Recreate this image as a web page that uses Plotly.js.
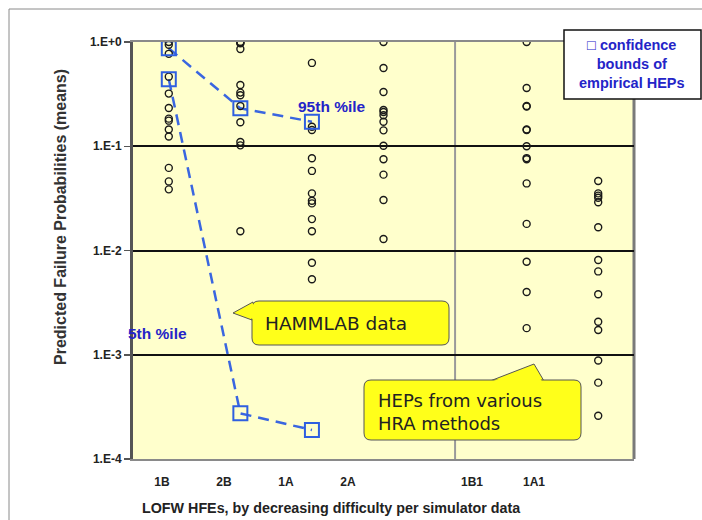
<!DOCTYPE html>
<html>
<head>
<meta charset="utf-8">
<script src="https://cdn.plot.ly/plotly-3.0.1.min.js"></script>
<style>html,body{margin:0;padding:0;background:#fff;}#chart{width:702px;height:520px;}</style>
</head>
<body>
<div id="chart"></div>
<script>
// ---- data ----
const categories = ['1B', '2B', '1A', '2A', '1B1', '1A1'];
const hep1B  = [1.0, 0.94, 0.77, 0.465, 0.32, 0.233, 0.184, 0.176, 0.145, 0.124, 0.062, 0.046, 0.0386];
const hep2B  = [1.0, 0.985, 0.97, 0.857, 0.387, 0.327, 0.308, 0.243, 0.17, 0.11, 0.102, 0.0153];
const hep1A  = [0.63, 0.154, 0.143, 0.0766, 0.058, 0.0353, 0.030, 0.0283, 0.020, 0.0153, 0.00764, 0.0053];
const hep2A  = [1.0, 0.563, 0.331, 0.223, 0.213, 0.198, 0.172, 0.142, 0.101, 0.075, 0.0534, 0.0305, 0.0129];
const hep1B1 = [1.0, 0.362, 0.243, 0.24, 0.145, 0.143, 0.100, 0.077, 0.075, 0.044, 0.018, 0.0078, 0.0040, 0.0018];
const hep1A1 = [0.0464, 0.0353, 0.0336, 0.0321, 0.029, 0.0167, 0.0081, 0.0063, 0.0038, 0.00207, 0.00173, 0.00088, 0.00054, 0.00026];
const boundCats = ['1B', '2B', '1A'];
const upper95 = [0.87, 0.231, 0.172];
const lower5  = [0.44, 0.000274, 0.00019];
const yTickVals = [1, 0.1, 0.01, 0.001, 0.0001];
const yTickText = ['1.E+0', '1.E-1', '1.E-2', '1.E-3', '1.E-4'];

// ---- layout helpers ----
const W = 702, H = 520, L = 133, R = 634, T = 42, B = 459;
const slot = c => { const i = categories.indexOf(c); return i < 4 ? i : i + 1; };
const px = x => (x - L) / (R - L);
const py = y => (B - y) / (B - T);
const seriesList = [hep1B, hep2B, hep1A, hep2A, hep1B1, hep1A1];

const traces = [];
[upper95, lower5].forEach(v => {
  traces.push({
    x: boundCats.map(slot), y: v, type: 'scatter', mode: 'lines',
    line: {color: '#3a66e0', width: 2.5, dash: '11px,7px'},
    hoverinfo: 'skip', showlegend: false
  });
});
categories.forEach((c, i) => {
  const vals = seriesList[i];
  traces.push({
    x: vals.map(() => slot(c)), y: vals, type: 'scatter', mode: 'markers',
    marker: {symbol: 'circle-open', size: 7, color: '#1a1a1a', line: {width: 1.4, color: '#1a1a1a'}},
    showlegend: false, name: c
  });
});
[upper95, lower5].forEach(v => {
  traces.push({
    x: boundCats.map(slot), y: v, type: 'scatter', mode: 'markers',
    marker: {symbol: 'square-open', size: 14, color: '#2f5fe0', line: {width: 2, color: '#2f5fe0'}},
    showlegend: false
  });
});

function rrect(x0, y0, x1, y1, r) {
  return `M${px(x0 + r)},${py(y0)} L${px(x1 - r)},${py(y0)} Q${px(x1)},${py(y0)} ${px(x1)},${py(y0 + r)} ` +
         `L${px(x1)},${py(y1 - r)} Q${px(x1)},${py(y1)} ${px(x1 - r)},${py(y1)} L${px(x0 + r)},${py(y1)} ` +
         `Q${px(x0)},${py(y1)} ${px(x0)},${py(y1 - r)} L${px(x0)},${py(y0 + r)} Q${px(x0)},${py(y0)} ${px(x0 + r)},${py(y0)} Z`;
}
function ptr(pts) {
  return 'M' + pts.map(p => `${px(p[0])},${py(p[1])}`).join(' L') + ' Z';
}

const shapes = [
  {type: 'rect', xref: 'paper', yref: 'paper', x0: px(9), x1: px(760), y0: py(580), y1: py(9),
   line: {color: '#8a8a8a', width: 1}, layer: 'below'},
  {type: 'line', xref: 'paper', yref: 'paper', x0: 1, x1: 1, y0: 0, y1: 1,
   line: {color: '#7a7a7a', width: 3}, layer: 'between'},
  {type: 'line', xref: 'paper', yref: 'paper', x0: 4.5 / 7, x1: 4.5 / 7, y0: 0, y1: 1,
   line: {color: '#9a9a9a', width: 2}, layer: 'between'},
  // HAMMLAB callout
  {type: 'path', xref: 'paper', yref: 'paper', path: ptr([[253, 302], [233, 313], [252, 320]]),
   fillcolor: '#ffff1a', line: {color: '#555', width: 1}, layer: 'above'},
  {type: 'path', xref: 'paper', yref: 'paper', path: rrect(252, 301, 449, 345, 7),
   fillcolor: '#ffff1a', line: {color: '#555', width: 1}, layer: 'above'},
  {type: 'path', xref: 'paper', yref: 'paper', path: ptr([[253, 303], [236, 313], [253, 319]]),
   fillcolor: '#ffff1a', line: {color: '#ffff1a', width: 0}, layer: 'above'},
  // HEPs callout
  {type: 'path', xref: 'paper', yref: 'paper', path: ptr([[490, 381], [534, 364], [544, 381]]),
   fillcolor: '#ffff1a', line: {color: '#555', width: 1}, layer: 'above'},
  {type: 'path', xref: 'paper', yref: 'paper', path: rrect(364, 380, 581, 440, 7),
   fillcolor: '#ffff1a', line: {color: '#555', width: 1}, layer: 'above'},
  {type: 'path', xref: 'paper', yref: 'paper', path: ptr([[492, 381.5], [533, 366], [542, 381.5]]),
   fillcolor: '#ffff1a', line: {color: '#ffff1a', width: 0}, layer: 'above'},
  // legend box
  {type: 'rect', xref: 'paper', yref: 'paper', x0: px(564), x1: px(701), y0: py(99), y1: py(30),
   fillcolor: '#ffffff', line: {color: '#111', width: 1.5}, layer: 'above'}
];

const blue = '#2424c8';
const F = 'Arial, Liberation Sans, sans-serif';
const G = 'DejaVu Sans, sans-serif';
const ann = (x, y, text, font, extra) => Object.assign({
  xref: 'paper', yref: 'paper', x: px(x), y: py(y), text: text, showarrow: false,
  xanchor: 'center', yanchor: 'middle', font: font
}, extra || {});
const annotations = [
  ann(60, 217, 'Predicted Failure Probabilities (means)', {family: F, size: 16, color: '#333', weight: 'bold'}, {textangle: -90}),
  ann(331, 508, 'LOFW HFEs, by decreasing difficulty per simulator data', {family: F, size: 14.3, color: '#222', weight: 'bold'}),
  ann(332, 106, '95th %ile', {family: F, size: 15.5, color: blue, weight: 'bold'}),
  ann(157, 333, '5th %ile', {family: F, size: 15.5, color: blue, weight: 'bold'}),
  ann(263, 323, 'HAMMLAB data', {family: G, size: 18.5, color: '#222'}, {xanchor: 'left'}),
  ann(376, 412, 'HEPs from various<br>HRA methods', {family: G, size: 18, color: '#222'}, {xanchor: 'left', align: 'left'}),
  ann(632, 64, '\u25A1 confidence<br>bounds of<br>empirical HEPs', {family: F, size: 14.5, color: blue, weight: 'bold'}, {align: 'center'})
];

const layout = {
  width: W, height: H,
  margin: {l: L, r: W - R, t: T, b: H - B, pad: 0},
  paper_bgcolor: '#ffffff', plot_bgcolor: '#ffffcc',
  showlegend: false,
  xaxis: {range: [-0.5, 6.5], showticklabels: false, showgrid: false, zeroline: false, ticks: '',
          showline: true, mirror: true, linecolor: '#8a8a8a', linewidth: 2, layer: 'below traces'},
  xaxis2: {overlaying: 'x', side: 'bottom', range: [-0.4677, 7.613], tickmode: 'array',
           tickvals: categories.map(slot), ticktext: categories, showgrid: false, zeroline: false,
           showline: false, ticks: '', ticklabelstandoff: 14,
           tickfont: {family: F, size: 12, color: '#222', weight: 'bold'}},
  yaxis: {type: 'log', range: [-4, 0], tickmode: 'array', tickvals: yTickVals, ticktext: yTickText,
          showgrid: true, gridcolor: '#111', gridwidth: 2, zeroline: false,
          showline: true, linecolor: '#555', linewidth: 3, ticks: 'outside', ticklen: 6, tickwidth: 1.5, tickcolor: '#555',
          tickfont: {family: F, size: 12, color: '#222', weight: 'bold'}, layer: 'below traces'},
  shapes: shapes,
  annotations: annotations
};

traces.push({x: [], y: [], xaxis: 'x2', yaxis: 'y', type: 'scatter', showlegend: false, hoverinfo: 'skip'});

Plotly.newPlot('chart', traces, layout, {staticPlot: true, displayModeBar: false});
</script>
</body>
</html>
